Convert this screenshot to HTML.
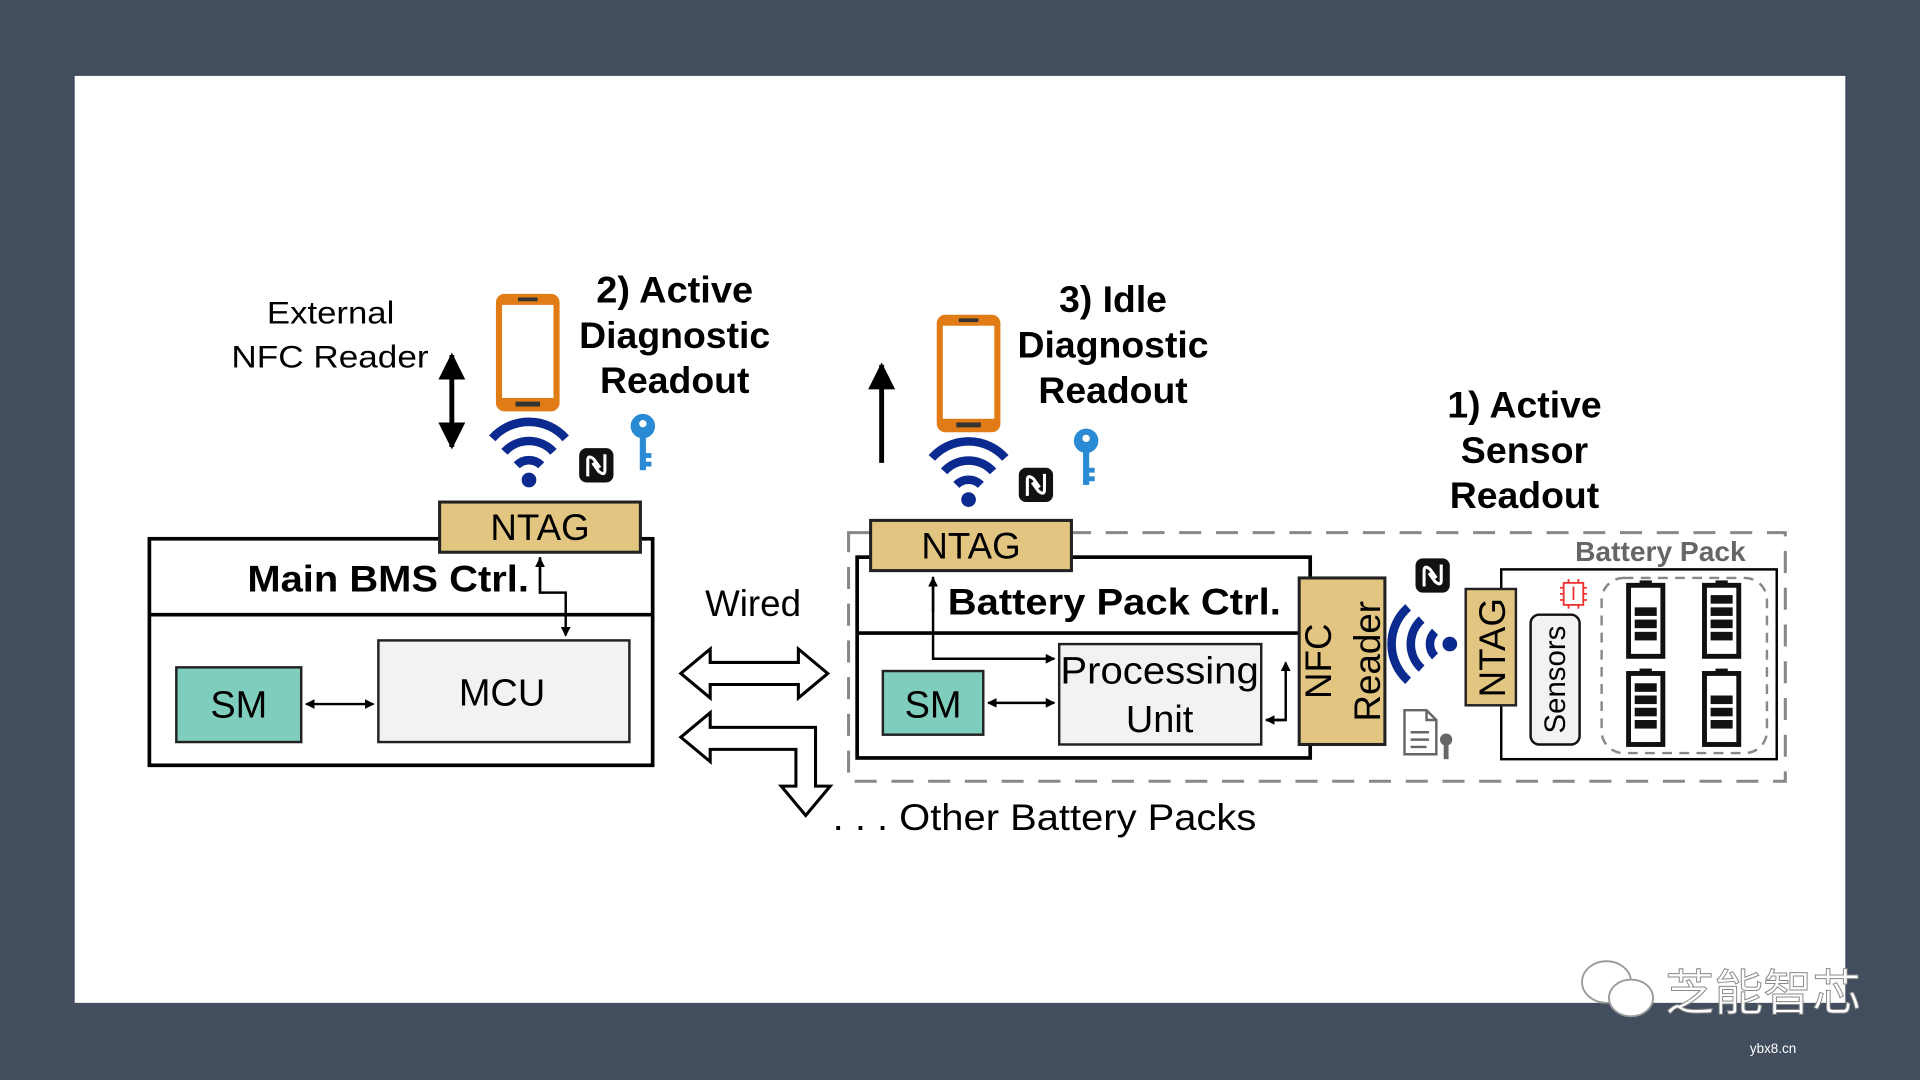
<!DOCTYPE html>
<html><head><meta charset="utf-8"><style>
html,body{margin:0;padding:0;background:#424d5e;width:1920px;height:1080px;overflow:hidden}
svg{display:block}
text{font-family:"Liberation Sans",Arial,sans-serif}
</style></head><body>
<svg width="1920" height="1080" viewBox="0 0 1568 882" xmlns="http://www.w3.org/2000/svg">
<defs>
<marker id="ah" markerWidth="8" markerHeight="8" refX="7" refY="4" orient="auto" markerUnits="userSpaceOnUse"><path d="M0,0 L8,4 L0,8 z" fill="#000"/></marker>
<marker id="ahs" markerWidth="8" markerHeight="8" refX="1" refY="4" orient="auto" markerUnits="userSpaceOnUse"><path d="M8,0 L0,4 L8,8 z" fill="#000"/></marker>
<marker id="ab" markerWidth="22" markerHeight="22" refX="20" refY="11" orient="auto" markerUnits="userSpaceOnUse"><path d="M0,0 L22,11 L0,22 z" fill="#000"/></marker>
<marker id="abs" markerWidth="22" markerHeight="22" refX="2" refY="11" orient="auto" markerUnits="userSpaceOnUse"><path d="M22,0 L0,11 L22,22 z" fill="#000"/></marker>
<g id="wifi"><path d="M-30,-22 A40,40 0 0 1 30,-22" fill="none" stroke="#0b2a8f" stroke-width="7"/><path d="M-20,-11 A27,27 0 0 1 20,-11" fill="none" stroke="#0b2a8f" stroke-width="7"/><path d="M-10,0 A14,14 0 0 1 10,0" fill="none" stroke="#0b2a8f" stroke-width="7"/><circle cx="0" cy="12" r="6" fill="#0b2a8f"/></g>
<g id="nfc"><rect x="-14" y="-14" width="28" height="28" rx="6" fill="#111"/><path d="M-7,9 V-4 Q-7,-9 -2,-5 L3,2 M7,-9 V4 Q7,9 2,5 L-3,-2" fill="none" stroke="#fff" stroke-width="2.5"/></g>
<g id="key"><circle cx="0" cy="0" r="10" fill="#2a8ad4"/><circle cx="0" cy="-2" r="3" fill="#fff"/><rect x="-2.5" y="8" width="5" height="28" fill="#2a8ad4"/><rect x="2" y="22" width="5" height="4" fill="#2a8ad4"/><rect x="2" y="29" width="5" height="4" fill="#2a8ad4"/></g>
<g id="phone"><rect x="0" y="0" width="52" height="96" rx="7" fill="#e07b16"/><rect x="5" y="9" width="42" height="76" fill="#fff"/><rect x="16" y="88" width="20" height="4" fill="#333"/><rect x="18" y="3" width="16" height="3" fill="#333"/></g>
<g id="batt"><rect x="-5" y="-4" width="10" height="6" fill="#111"/><rect x="-14" y="0" width="28" height="58" fill="#fff" stroke="#111" stroke-width="4"/></g>
</defs>
<rect x="61" y="62" width="1446" height="757" fill="#fff"/>

<!-- left section -->
<text x="218" y="264" font-size="26" textLength="104" lengthAdjust="spacingAndGlyphs">External</text>
<text x="189" y="300" font-size="26" textLength="161" lengthAdjust="spacingAndGlyphs">NFC Reader</text>
<line x1="369" y1="290" x2="369" y2="365" stroke="#000" stroke-width="4" marker-end="url(#ab)" marker-start="url(#abs)"/>
<use href="#phone" x="405" y="240"/>
<use href="#wifi" x="432" y="380"/>
<use href="#nfc" x="487" y="380"/>
<use href="#key" x="525" y="348"/>
<g font-size="30" font-weight="bold" text-anchor="middle"><text x="551" y="247" textLength="128" lengthAdjust="spacingAndGlyphs">2) Active</text><text x="551" y="284" textLength="156" lengthAdjust="spacingAndGlyphs">Diagnostic</text><text x="551" y="321" textLength="122" lengthAdjust="spacingAndGlyphs">Readout</text></g>

<rect x="122" y="440" width="411" height="185" fill="#fff" stroke="#000" stroke-width="3"/>
<line x1="122" y1="502" x2="533" y2="502" stroke="#000" stroke-width="3"/>
<rect x="359" y="410" width="164" height="41" fill="#e2c581" stroke="#222" stroke-width="2.5"/>
<text x="441" y="441" font-size="30" text-anchor="middle">NTAG</text>
<text x="202" y="483" font-size="30" font-weight="bold" textLength="230" lengthAdjust="spacingAndGlyphs">Main BMS Ctrl.</text>
<rect x="144" y="545" width="102" height="61" fill="#7fcdbd" stroke="#222" stroke-width="2"/>
<text x="195" y="586" font-size="31" text-anchor="middle">SM</text>
<rect x="309" y="523" width="205" height="83" fill="#f2f2f2" stroke="#222" stroke-width="2"/>
<text x="410" y="576" font-size="31" text-anchor="middle">MCU</text>
<line x1="250" y1="575" x2="305" y2="575" stroke="#000" stroke-width="2" marker-start="url(#ahs)" marker-end="url(#ah)"/>
<polyline points="441,455 441,484 462,484 462,519" fill="none" stroke="#000" stroke-width="2" marker-end="url(#ah)"/>
<line x1="441" y1="484" x2="441" y2="456" stroke="#000" stroke-width="2" marker-end="url(#ah)"/>

<text x="615" y="503" font-size="30" text-anchor="middle">Wired</text>
<path d="M556,550 L580,530 L580,541 L652,541 L652,530 L676,550 L652,570 L652,559 L580,559 L580,570 Z" fill="#fff" stroke="#000" stroke-width="2.5"/>
<path d="M556,602 L580,582 L580,594 L666,594 L666,642 L678,642 L658,666 L638,642 L650,642 L650,612 L580,612 L580,622 Z" fill="#fff" stroke="#000" stroke-width="2.5"/>
<text x="680" y="678" font-size="30" textLength="346" lengthAdjust="spacingAndGlyphs">. . . Other Battery Packs</text>

<!-- middle section -->
<line x1="720" y1="378" x2="720" y2="298" stroke="#000" stroke-width="4" marker-end="url(#ab)"/>
<use href="#phone" x="765" y="257"/>
<use href="#wifi" x="791" y="396"/>
<use href="#nfc" x="846" y="396"/>
<use href="#key" x="887" y="360"/>
<g font-size="30" font-weight="bold" text-anchor="middle"><text x="909" y="255" textLength="88" lengthAdjust="spacingAndGlyphs">3) Idle</text><text x="909" y="292" textLength="156" lengthAdjust="spacingAndGlyphs">Diagnostic</text><text x="909" y="329" textLength="122" lengthAdjust="spacingAndGlyphs">Readout</text></g>
<g font-size="30" font-weight="bold" text-anchor="middle"><text x="1245" y="341" textLength="126" lengthAdjust="spacingAndGlyphs">1) Active</text><text x="1245" y="378" textLength="104" lengthAdjust="spacingAndGlyphs">Sensor</text><text x="1245" y="415" textLength="122" lengthAdjust="spacingAndGlyphs">Readout</text></g>

<rect x="693" y="435" width="765" height="203" fill="none" stroke="#888" stroke-width="2.5" stroke-dasharray="18,12"/>
<rect x="700" y="455" width="370" height="164" fill="#fff" stroke="#000" stroke-width="3"/>
<line x1="700" y1="517" x2="1070" y2="517" stroke="#000" stroke-width="3"/>
<rect x="711" y="425" width="164" height="41" fill="#e2c581" stroke="#222" stroke-width="2.5"/>
<text x="793" y="456" font-size="30" text-anchor="middle">NTAG</text>
<text x="774" y="502" font-size="30" font-weight="bold" textLength="272" lengthAdjust="spacingAndGlyphs">Battery Pack Ctrl.</text>
<rect x="721" y="548" width="82" height="52" fill="#7fcdbd" stroke="#222" stroke-width="2"/>
<text x="762" y="586" font-size="31" text-anchor="middle">SM</text>
<rect x="865" y="526" width="165" height="82" fill="#f2f2f2" stroke="#222" stroke-width="2"/>
<text x="866" y="558" font-size="31" textLength="162" lengthAdjust="spacingAndGlyphs">Processing</text>
<text x="947" y="598" font-size="31" text-anchor="middle">Unit</text>
<line x1="807" y1="574" x2="861" y2="574" stroke="#000" stroke-width="2" marker-start="url(#ahs)" marker-end="url(#ah)"/>
<polyline points="762,471 762,538 861,538" fill="none" stroke="#000" stroke-width="2" marker-end="url(#ah)"/>
<line x1="762" y1="500" x2="762" y2="472" stroke="#000" stroke-width="2" marker-end="url(#ah)"/>
<polyline points="1034,588 1050,588 1050,541" fill="none" stroke="#000" stroke-width="2" marker-end="url(#ah)"/>
<line x1="1050" y1="588" x2="1034" y2="588" stroke="#000" stroke-width="2" marker-end="url(#ah)"/>
<rect x="1061" y="472" width="70" height="136" fill="#e2c581" stroke="#222" stroke-width="2.5"/>
<text transform="translate(1087,540) rotate(-90)" font-size="30" text-anchor="middle">NFC</text>
<text transform="translate(1127,540) rotate(-90)" font-size="30" text-anchor="middle">Reader</text>

<use href="#nfc" x="1170" y="470"/>
<use href="#wifi" transform="translate(1172,526) rotate(-90)"/>
<g transform="translate(1147,580)"><path d="M0,0 H18 L26,8 V36 H0 Z" fill="#fff" stroke="#666" stroke-width="2"/><path d="M18,0 V8 H26" fill="none" stroke="#666" stroke-width="2"/><line x1="5" y1="18" x2="20" y2="18" stroke="#666" stroke-width="2"/><line x1="5" y1="24" x2="20" y2="24" stroke="#666" stroke-width="2"/><line x1="5" y1="30" x2="18" y2="30" stroke="#666" stroke-width="2"/><circle cx="34" cy="24" r="5" fill="#666"/><rect x="32" y="27" width="4" height="13" fill="#666"/></g>

<rect x="1226" y="465" width="225" height="155" fill="#fff" stroke="#000" stroke-width="2"/>
<rect x="1197" y="481" width="41" height="95" fill="#e2c581" stroke="#222" stroke-width="2"/>
<text transform="translate(1229,529) rotate(-90)" font-size="30" text-anchor="middle">NTAG</text>
<text x="1356" y="458" font-size="23" font-weight="bold" fill="#666" text-anchor="middle">Battery Pack</text>
<rect x="1250" y="502" width="40" height="106" rx="7" fill="#f2f2f2" stroke="#111" stroke-width="2"/>
<text transform="translate(1278,555) rotate(-90)" font-size="24" text-anchor="middle">Sensors</text>
<g stroke="#e33" stroke-width="1.5" fill="none"><rect x="1277" y="476" width="16" height="18"/><line x1="1285" y1="479" x2="1285" y2="490"/><path d="M1274,480 h3 M1274,485 h3 M1274,490 h3 M1293,480 h3 M1293,485 h3 M1293,490 h3 M1281,473 v3 M1289,473 v3 M1281,494 v3 M1289,494 v3"/></g>
<rect x="1308" y="472" width="135" height="143" rx="18" fill="none" stroke="#888" stroke-width="2" stroke-dasharray="8,6"/>
<use href="#batt" x="1344" y="478"/><use href="#batt" x="1406" y="478"/>
<use href="#batt" x="1344" y="550"/><use href="#batt" x="1406" y="550"/>
<g fill="#111"><rect x="1335" y="496" width="18" height="7"/><rect x="1335" y="506" width="18" height="7"/><rect x="1335" y="516" width="18" height="7"/>
<rect x="1397" y="486" width="18" height="7"/><rect x="1397" y="496" width="18" height="7"/><rect x="1397" y="506" width="18" height="7"/><rect x="1397" y="516" width="18" height="7"/>
<rect x="1335" y="558" width="18" height="7"/><rect x="1335" y="568" width="18" height="7"/><rect x="1335" y="578" width="18" height="7"/><rect x="1335" y="588" width="18" height="7"/>
<rect x="1397" y="568" width="18" height="7"/><rect x="1397" y="578" width="18" height="7"/><rect x="1397" y="588" width="18" height="7"/></g>

<!-- watermark -->
<ellipse cx="1312" cy="802" rx="20" ry="17" fill="#fff" stroke="#999" stroke-width="1.5"/>
<ellipse cx="1332" cy="815" rx="18" ry="15" fill="#fff" stroke="#999" stroke-width="1.5"/>
<text x="1360" y="825" font-size="40" fill="#fff" stroke="#888" stroke-width="0.8" style="font-family:'Noto Sans CJK SC',sans-serif">芝能智芯</text>
<text x="1448" y="860" font-size="11" fill="#fff" text-anchor="middle">ybx8.cn</text>
</svg>
</body></html>
